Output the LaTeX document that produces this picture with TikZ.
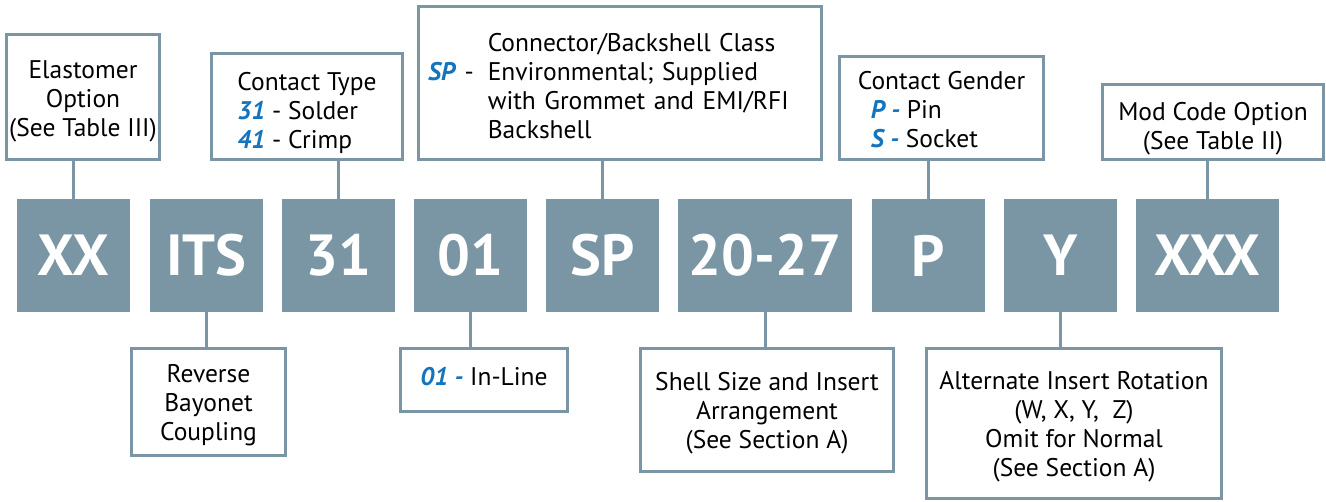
\documentclass[tikz,border=0pt]{standalone}
\usepackage{fontspec}
\setmainfont{PT Sans}
\definecolor{slate}{RGB}{122,150,164}
\definecolor{codeblue}{RGB}{20,116,190}
\newcommand{\code}[1]{\textcolor{codeblue}{\textbf{\textit{#1}}}}
% lines of a box, lowered by #2 without changing the box size
\newcommand{\boxlines}[3][c]{\raisebox{-#2}[\height][\depth]{\begin{tabular}{@{}#1@{}}#3\end{tabular}}}
\tikzset{
  codebox/.style={fill=slate, text=white, minimum width=113, minimum height=113,
    inner sep=0, font=\fontsize{58}{58}\selectfont\bfseries},
  infobox/.style={draw=slate, line width=3pt, fill=white, inner sep=0,
    align=center, font=\fontsize{25.5}{29}\selectfont},
  link/.style={draw=slate, line width=3pt}
}
\begin{document}
\begin{tikzpicture}[x=1pt, y=-1pt]
  \useasboundingbox (0,0) rectangle (1326,501);
  % code row
  \node[codebox] (xx) at (73.5,255.5) {XX};
  \node[codebox] (its) at (206.5,255.5) {ITS};
  \node[codebox] (ctype) at (338.5,255.5) {31};
  \node[codebox] (style) at (470.5,255.5) {01};
  \node[codebox] (class) at (602.5,255.5) {SP};
  \node[codebox, minimum width=174] (shell) at (765,255.5) {20-27};
  \node[codebox] (gender) at (928.5,255.5) {P};
  \node[codebox] (rot) at (1060.5,255.5) {Y};
  \node[codebox, minimum width=143] (mod) at (1207.5,255.5) {XXX};
  % boxes above
  \node[infobox, minimum width=153, minimum height=125] (elastinfo) at (83,97)
    {\boxlines{5pt}{Elastomer\\Option\\(See Table III)}};
  \node[infobox, minimum width=191, minimum height=106] (ctypeinfo) at (307,106.5)
    {\boxlines[l]{7pt}{Contact Type\\\code{31} - Solder\\\code{41} - Crimp}};
  \node[infobox, align=left, minimum width=403, minimum height=153, text width=384] (classinfo) at (620,83)
    {\boxlines[l@{\hspace{14pt}}l]{6pt}{
       & Connector/Backshell Class\\
     \code{SP} - & Environmental; Supplied\\
       & with Grommet and EMI/RFI\\
       & Backshell}};
  \node[infobox, minimum width=204, minimum height=103] (genderinfo) at (941.5,108)
    {\boxlines[l]{5pt}{Contact Gender\\\hspace*{13pt}\code{P -} Pin\\\hspace*{13pt}\code{S -} Socket}};
  \node[infobox, minimum width=221, minimum height=75] (modinfo) at (1213,122)
    {\boxlines{7pt}{Mod Code Option\\(See Table II)}};
  % boxes below
  \node[infobox, minimum width=154, minimum height=107] (itsinfo) at (208.5,402)
    {\boxlines{4pt}{Reverse\\Bayonet\\Coupling}};
  \node[infobox, minimum width=167, minimum height=63] (styleinfo) at (484,380)
    {\boxlines{0pt}{\code{01 -} In-Line}};
  \node[infobox, minimum width=253, minimum height=123] (shellinfo) at (767,410)
    {\boxlines{4pt}{Shell Size and Insert\\Arrangement\\(See Section A)}};
  \node[infobox, minimum width=295, minimum height=150] (rotinfo) at (1074,423.5)
    {\boxlines{4pt}{Alternate Insert Rotation\\(W, X, Y,\ \ Z)\\Omit for Normal\\(See Section A)}};
  % links
  \draw[link] (xx.north) -- (xx.north |- elastinfo.south);
  \draw[link] (ctype.north) -- (ctype.north |- ctypeinfo.south);
  \draw[link] (class.north) -- (class.north |- classinfo.south);
  \draw[link] (gender.north) -- (gender.north |- genderinfo.south);
  \draw[link] (mod.north) -- (mod.north |- modinfo.south);
  \draw[link] (its.south) -- (its.south |- itsinfo.north);
  \draw[link] (style.south) -- (style.south |- styleinfo.north);
  \draw[link] (shell.south) -- (shell.south |- shellinfo.north);
  \draw[link] (rot.south) -- (rot.south |- rotinfo.north);
\end{tikzpicture}
\end{document}
